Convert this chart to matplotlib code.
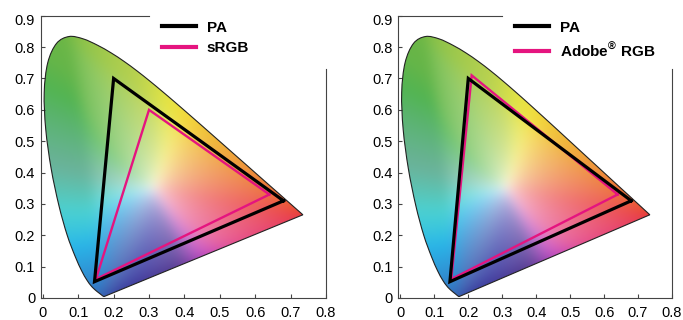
import numpy as np
import matplotlib
matplotlib.use('Agg')
import matplotlib.pyplot as plt
from matplotlib.colors import rgb_to_hsv, hsv_to_rgb
from matplotlib.patches import PathPatch
from matplotlib.path import Path
from matplotlib.transforms import ScaledTranslation

plt.rcParams['font.family'] = ['Liberation Sans', 'DejaVu Sans']
plt.rcParams['mathtext.fontset'] = 'custom'
plt.rcParams['mathtext.rm'] = 'Liberation Sans'
plt.rcParams['mathtext.bf'] = 'Liberation Sans:bold'

# CIE 1931 spectral locus, 380-700 nm in 5 nm steps
locus_x = [0.1741, 0.1740, 0.1738, 0.1736, 0.1733, 0.1730, 0.1726, 0.1721,
           0.1714, 0.1703, 0.1689, 0.1669, 0.1644, 0.1611, 0.1566, 0.1510,
           0.1440, 0.1355, 0.1241, 0.1096, 0.0913, 0.0687, 0.0454, 0.0235,
           0.0082, 0.0039, 0.0139, 0.0389, 0.0743, 0.1142, 0.1547, 0.1929,
           0.2296, 0.2658, 0.3016, 0.3373, 0.3731, 0.4087, 0.4441, 0.4788,
           0.5125, 0.5448, 0.5752, 0.6029, 0.6270, 0.6482, 0.6658, 0.6801,
           0.6915, 0.7006, 0.7079, 0.7140, 0.7190, 0.7230, 0.7260, 0.7283,
           0.7300, 0.7311, 0.7320, 0.7327, 0.7334, 0.7340, 0.7344, 0.7346,
           0.7347]
locus_y = [0.0050, 0.0050, 0.0049, 0.0049, 0.0048, 0.0048, 0.0048, 0.0048,
           0.0051, 0.0058, 0.0069, 0.0086, 0.0109, 0.0138, 0.0177, 0.0227,
           0.0297, 0.0399, 0.0578, 0.0868, 0.1327, 0.2007, 0.2950, 0.4127,
           0.5384, 0.6548, 0.7502, 0.8120, 0.8338, 0.8262, 0.8059, 0.7816,
           0.7543, 0.7243, 0.6923, 0.6589, 0.6245, 0.5896, 0.5547, 0.5202,
           0.4866, 0.4544, 0.4242, 0.3965, 0.3725, 0.3514, 0.3340, 0.3197,
           0.3083, 0.2993, 0.2920, 0.2859, 0.2809, 0.2770, 0.2740, 0.2717,
           0.2700, 0.2689, 0.2680, 0.2673, 0.2666, 0.2660, 0.2656, 0.2654,
           0.2653]

# gamut primaries (R, G, B) in xy
pa_x = [0.68, 0.20, 0.146]
pa_y = [0.31, 0.70, 0.052]
srgb_x = [0.64, 0.30, 0.15]
srgb_y = [0.33, 0.60, 0.06]
adobe_x = [0.64, 0.21, 0.15]
adobe_y = [0.33, 0.71, 0.06]

panels = [
    ('sRGB', srgb_x, srgb_y),
    (r'Adobe$^{\mathbf{®}}$ RGB', adobe_x, adobe_y),
]

MAGENTA = '#e5147f'
SPINE = '#444444'


def locus_path():
    # smooth curve through the locus points, closed by the purple line
    pts = np.column_stack([locus_x, locus_y])
    verts = [pts[0]]
    codes = [Path.MOVETO]
    n = len(pts)
    for i in range(n - 1):
        p0 = pts[max(i - 1, 0)]
        p1 = pts[i]
        p2 = pts[i + 1]
        p3 = pts[min(i + 2, n - 1)]
        verts += [p1 + (p2 - p0) / 6, p2 - (p3 - p1) / 6, p2]
        codes += [Path.CURVE4] * 3
    verts += [pts[0], pts[0]]
    codes += [Path.LINETO, Path.CLOSEPOLY]
    return Path(verts, codes)


def xy_to_xyz(x, y):
    return np.array([x / y, 1.0, (1 - x - y) / y])


def blur(a, sigma):
    r = int(3 * sigma)
    k = np.exp(-0.5 * (np.arange(-r, r + 1) / sigma) ** 2)
    k /= k.sum()
    a = np.pad(a, ((r, r), (r, r), (0, 0)), mode='edge')
    a = np.apply_along_axis(lambda v: np.convolve(v, k, mode='valid'), 0, a)
    a = np.apply_along_axis(lambda v: np.convolve(v, k, mode='valid'), 1, a)
    return a


def chromaticity_image(n=400):
    xs = np.linspace(0, 0.8, n)
    ys = np.linspace(0.001, 0.9, n)
    gx, gy = np.meshgrid(xs, ys)
    XYZ = np.stack([gx / gy, np.ones_like(gx), (1 - gx - gy) / gy])
    # primaries at the corners of the locus, white near the centre
    prim = np.column_stack([xy_to_xyz(0.7347, 0.2653),
                            xy_to_xyz(0.0743, 0.8338),
                            xy_to_xyz(0.1741, 0.0050)])
    white = xy_to_xyz(0.31, 0.35)
    scale = np.linalg.solve(prim, white)
    m = np.linalg.inv(prim * scale)
    rgb = np.einsum('ij,jkl->kli', m, XYZ)
    rgb = np.clip(rgb, 0, None)
    rgb /= rgb.max(axis=2, keepdims=True) + 1e-9
    rgb = np.power(rgb, 1 / 2.2)
    hsv = rgb_to_hsv(np.clip(rgb, 0, 1))
    h = hsv[..., 0] * 360
    # hue remap towards the printed chart's palette
    h_in = [0, 60, 80, 120, 145, 178, 205, 240, 290, 320, 360]
    hk = [0, 52, 72, 97, 104, 160, 196, 222, 258, 335, 360]
    h2 = np.interp(h, h_in, hk)
    v_target = np.interp(h2, hk, [0.91, 0.95, 0.82, 0.72, 0.71, 0.70, 0.91, 0.66, 0.56, 0.90, 0.91])
    s_target = np.interp(h2, hk, [0.80, 0.75, 0.62, 0.63, 0.60, 0.40, 0.82, 0.68, 0.60, 0.66, 0.80])
    sat = np.power(hsv[..., 1], 0.55)
    s = sat * s_target
    v = 1 - sat * (1 - v_target)
    out = hsv_to_rgb(np.stack([(h2 % 360) / 360, s, v], axis=-1))
    out = blur(out, 0.016 / (0.8 / n))
    return np.clip(out, 0, 1)


img = chromaticity_image()

fig = plt.figure(figsize=(6.83, 3.2), dpi=100)
axes_boxes = [[0.0596, 0.0688, 0.4177, 0.882],
              [0.5832, 0.0688, 0.4007, 0.882]]

for box, (name, gx, gy) in zip(axes_boxes, panels):
    ax = fig.add_axes(box)
    im = ax.imshow(img, extent=[0, 0.8, 0.001, 0.9], origin='lower',
                   interpolation='bilinear', aspect='auto', zorder=1)
    locus = PathPatch(locus_path(), fc='none', ec='#222222', lw=0.8, zorder=2)
    ax.add_patch(locus)
    im.set_clip_path(locus)

    ax.plot(pa_x + pa_x[:1], pa_y + pa_y[:1], color='black', lw=2.3,
            solid_joinstyle='miter', label='PA', zorder=4)
    ax.plot(gx + gx[:1], gy + gy[:1], color=MAGENTA, lw=1.7,
            solid_joinstyle='miter', label=name, zorder=3)

    ax.set_xlim(-0.006, 0.8)
    ax.set_ylim(0, 0.9)
    ax.set_xticks(np.arange(0, 0.81, 0.1))
    ax.set_yticks(np.arange(0, 0.91, 0.1))
    ax.set_xticklabels(['0', '0.1', '0.2', '0.3', '0.4', '0.5', '0.6', '0.7', '0.8'])
    ax.set_yticklabels(['0', '0.1', '0.2', '0.3', '0.4', '0.5', '0.6', '0.7', '0.8', '0.9'])
    ax.tick_params(direction='in', length=3, width=0.8, color=SPINE,
                   labelsize=10.5, labelcolor='black')
    ax.tick_params(axis='x', pad=6)
    ax.tick_params(axis='y', pad=4)
    ax.tick_params(top=False, right=False)
    for s in ax.spines.values():
        s.set_color(SPINE)
        s.set_linewidth(0.8)
    ax.spines['top'].set_bounds(-0.006, 0.30)
    ax.spines['right'].set_bounds(0, 0.73)
    # top label sits a little lower in the original
    lbl = ax.get_yticklabels()[-1]
    lbl.set_transform(lbl.get_transform() + ScaledTranslation(0, -3 / 72, fig.dpi_scale_trans))

    leg = ax.legend(loc='upper left', bbox_to_anchor=(0.40, 1.01), frameon=False,
                    handlelength=2.2, handletextpad=0.7, labelspacing=0.42,
                    borderaxespad=0.1, prop={'size': 11, 'weight': 'bold'})
    for line in leg.get_lines():
        line.set_linewidth(3)

fig.savefig('out.png', dpi=100)
